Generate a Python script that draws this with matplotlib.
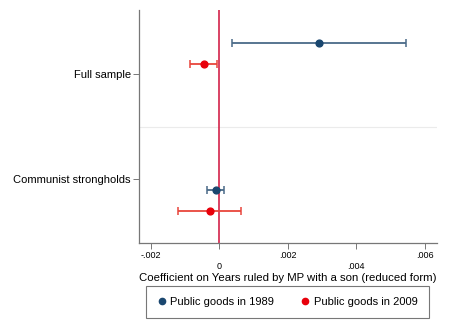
import matplotlib
matplotlib.use("Agg")
import matplotlib.pyplot as plt
from matplotlib.lines import Line2D

plt.rcParams['font.family'] = ['Liberation Sans', 'DejaVu Sans']

# Data
groups = ['Full sample', 'Communist strongholds']
coef_1989 = [0.00291, -0.000096]
lo_1989 = [0.00037, -0.00034]
hi_1989 = [0.00545, 0.000146]
coef_2009 = [-0.000456, -0.00028]
lo_2009 = [-0.000847, -0.00119]
hi_2009 = [-0.000076, 0.00065]

xticks_major = [-0.002, 0.002, 0.006]
xlabels_major = ['-.002', '.002', '.006']
xticks_minor = [0.0, 0.004]
xlabels_minor = ['0', '.004']

navy = '#1a476f'
navy_line = '#4a6a88'
red = '#e8000b'
red_line = '#e8453c'

fig = plt.figure(figsize=(4.58, 3.31), dpi=100)
ax = fig.add_axes([0.3035, 0.2659, 0.6505, 0.7039])

# row positions: each group has two rows, 7 rows apart
pos_1989 = [1 + 7 * i for i in range(len(groups))]
pos_2009 = [p + 1 for p in pos_1989]
group_pos = [2.476 + 5 * i for i in range(len(groups))]

ax.axhline(5, color='#ebebeb', lw=0.8, zorder=0)
ax.axvline(0, color='#d0103a', lw=1.1, zorder=1)

for c, lo, hi, y in zip(coef_1989, lo_1989, hi_1989, pos_1989):
    ax.errorbar(c, y, xerr=[[c - lo], [hi - c]], fmt='none', ecolor=navy_line,
                elinewidth=1.3, capsize=3, capthick=1.1, zorder=2)
ax.scatter(coef_1989, pos_1989, s=24, color=navy, zorder=3)

for c, lo, hi, y in zip(coef_2009, lo_2009, hi_2009, pos_2009):
    ax.errorbar(c, y, xerr=[[c - lo], [hi - c]], fmt='none', ecolor=red_line,
                elinewidth=1.3, capsize=3, capthick=1.1, zorder=2)
ax.scatter(coef_2009, pos_2009, s=24, color=red, zorder=3)

ax.set_ylim(10.52, -0.571)
ax.set_xlim(-0.00234, 0.00636)

ax.set_yticks(group_pos)
ax.set_yticklabels(groups, fontsize=8)
ax.set_xticks(xticks_major)
ax.set_xticklabels(xlabels_major, fontsize=6.5)
ax.set_xticks(xticks_minor, minor=True)
ax.set_xticklabels(xlabels_minor, minor=True, fontsize=6.5)
ax.tick_params(axis='x', which='major', length=4, width=0.7, color='#777777', pad=2)
ax.tick_params(axis='x', which='minor', length=4, width=0.7, color='#777777', pad=10)
ax.tick_params(axis='y', length=4, width=0.7, color='#777777', pad=2)

for s in ['top', 'right']:
    ax.spines[s].set_visible(False)
for s in ['left', 'bottom']:
    ax.spines[s].set_color('#777777')
    ax.spines[s].set_linewidth(0.9)

ax.set_xlabel('Coefficient on Years ruled by MP with a son (reduced form)',
              fontsize=8.2, labelpad=1)

handles = [
    Line2D([], [], marker='o', ls='none', color=navy, markersize=4.5),
    Line2D([], [], marker='o', ls='none', color=red, markersize=4.5),
]
leg = fig.legend(handles, ['Public goods in 1989', 'Public goods in 2009'],
                 loc='center', bbox_to_anchor=(0.628, 0.087), ncol=2,
                 fontsize=8, frameon=True, fancybox=False, handletextpad=0.4,
                 columnspacing=2.4, handlelength=0.8, borderpad=1.0)
leg.get_frame().set_edgecolor('#555555')
leg.get_frame().set_linewidth(0.8)

fig.savefig('out.png', dpi=100)
